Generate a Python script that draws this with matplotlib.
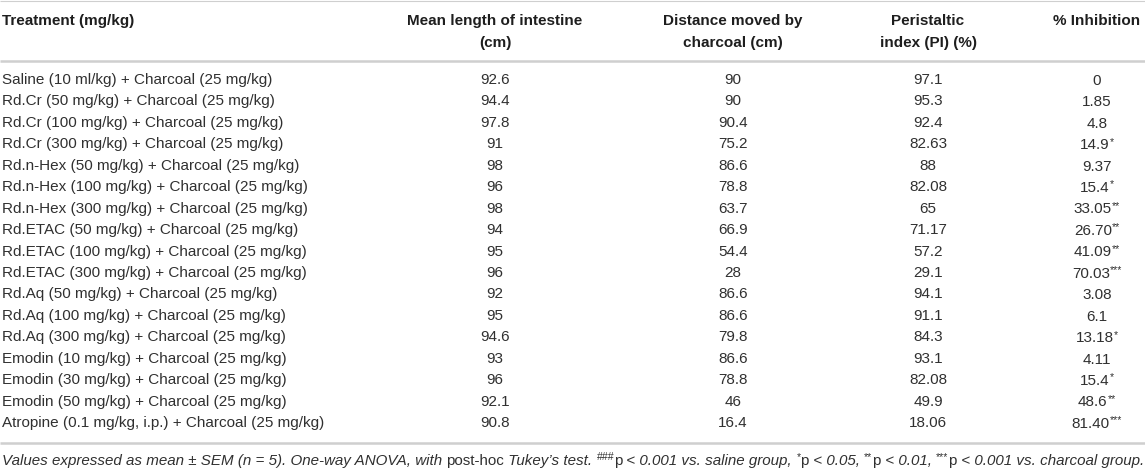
import matplotlib
matplotlib.use("Agg")
import matplotlib.pyplot as plt

# ---------------- data ----------------
header_treatment = "Treatment (mg/kg)"
header_cols = [
    ["Mean length of intestine", "(cm)"],
    ["Distance moved by", "charcoal (cm)"],
    ["Peristaltic", "index (PI) (%)"],
    ["% Inhibition"],
]
treatments = [
    "Saline (10 ml/kg) + Charcoal (25 mg/kg)",
    "Rd.Cr (50 mg/kg) + Charcoal (25 mg/kg)",
    "Rd.Cr (100 mg/kg) + Charcoal (25 mg/kg)",
    "Rd.Cr (300 mg/kg) + Charcoal (25 mg/kg)",
    "Rd.n-Hex (50 mg/kg) + Charcoal (25 mg/kg)",
    "Rd.n-Hex (100 mg/kg) + Charcoal (25 mg/kg)",
    "Rd.n-Hex (300 mg/kg) + Charcoal (25 mg/kg)",
    "Rd.ETAC (50 mg/kg) + Charcoal (25 mg/kg)",
    "Rd.ETAC (100 mg/kg) + Charcoal (25 mg/kg)",
    "Rd.ETAC (300 mg/kg) + Charcoal (25 mg/kg)",
    "Rd.Aq (50 mg/kg) + Charcoal (25 mg/kg)",
    "Rd.Aq (100 mg/kg) + Charcoal (25 mg/kg)",
    "Rd.Aq (300 mg/kg) + Charcoal (25 mg/kg)",
    "Emodin (10 mg/kg) + Charcoal (25 mg/kg)",
    "Emodin (30 mg/kg) + Charcoal (25 mg/kg)",
    "Emodin (50 mg/kg) + Charcoal (25 mg/kg)",
    "Atropine (0.1 mg/kg, i.p.) + Charcoal (25 mg/kg)",
]
mean_length = ["92.6", "94.4", "97.8", "91", "98", "96", "98", "94", "95", "96",
               "92", "95", "94.6", "93", "96", "92.1", "90.8"]
distance = ["90", "90", "90.4", "75.2", "86.6", "78.8", "63.7", "66.9", "54.4", "28",
            "86.6", "86.6", "79.8", "86.6", "78.8", "46", "16.4"]
peristaltic = ["97.1", "95.3", "92.4", "82.63", "88", "82.08", "65", "71.17", "57.2", "29.1",
               "94.1", "91.1", "84.3", "93.1", "82.08", "49.9", "18.06"]
inhibition = ["0", "1.85", "4.8", "14.9", "9.37", "15.4", "33.05", "26.70", "41.09", "70.03",
              "3.08", "6.1", "13.18", "4.11", "15.4", "48.6", "81.40"]
significance = ["", "", "", "*", "", "*", "**", "**", "**", "***",
                "", "", "*", "", "*", "**", "***"]

footnote = [
    ("Values expressed as mean \u00b1 SEM (n = 5). One-way ANOVA, with ", "it"),
    ("post-hoc", "up"),
    (" Tukey\u2019s test. ", "it"),
    ("###", "sup"), ("p", "up"), (" < 0.001 vs. saline group, ", "it"),
    ("*", "sup"), ("p", "up"), (" < 0.05, ", "it"),
    ("**", "sup"), ("p", "up"), (" < 0.01, ", "it"),
    ("***", "sup"), ("p", "up"), (" < 0.001 vs. charcoal group.", "it"),
]

# ---------------- layout ----------------
W, H = 1145, 468
FONT = "Liberation Sans"
FS = 11.0
FS_FOOT = 10.9
FS_SUP = 7.6
TXT = "#303030"
HDR = "#1e1e1e"
LINE = "#cfcfcf"

col_x = [495, 733, 928, 1097]
row_y0 = 80.0
row_dy = 21.44

fig = plt.figure(figsize=(W / 100, H / 100), dpi=100)
ax = fig.add_axes([0, 0, 1, 1])
ax.set_xlim(0, W)
ax.set_ylim(H, 0)
ax.axis("off")
renderer = fig.canvas.get_renderer()


def draw_pieces(x, y_center, pieces, fs, ha="left"):
    """pieces: list of (text, kind) kind in it/up/sup/reg; y_center is row centre"""
    base = y_center + 4.8
    objs = []
    for s, kind in pieces:
        kw = dict(fontfamily=FONT, color=TXT, va="baseline", ha="left")
        yy = base
        if kind == "sup":
            kw["fontsize"] = FS_SUP
            yy = base - 4.5
        else:
            kw["fontsize"] = fs
        if kind == "it":
            kw["fontstyle"] = "italic"
        t = ax.text(0, yy, s, **kw)
        objs.append(t)
    widths = [t.get_window_extent(renderer).width for t in objs]
    total = sum(widths)
    start = x - total / 2 if ha == "center" else x
    cur = start
    for t, w in zip(objs, widths):
        t.set_x(cur)
        cur += w
    return total


# rules
ax.plot([0, W], [1, 1], color=LINE, lw=0.8, solid_capstyle="butt")
ax.plot([0, W], [61, 61], color=LINE, lw=1.8, solid_capstyle="butt")
ax.plot([0, W], [443, 443], color=LINE, lw=1.8, solid_capstyle="butt")

# header
ax.text(2, 21, header_treatment, fontfamily=FONT, fontsize=FS, fontweight="bold",
        color=HDR, ha="left", va="center")
for cx, lines in zip(col_x, header_cols):
    for j, s in enumerate(lines):
        ax.text(cx, 21 + 22 * j, s, fontfamily=FONT, fontsize=FS, fontweight="bold",
                color=HDR, ha="center", va="center")

# body
for i, name in enumerate(treatments):
    y = row_y0 + row_dy * i
    ax.text(2, y, name, fontfamily=FONT, fontsize=FS, color=TXT, ha="left", va="center")
    for cx, col in zip(col_x[:3], [mean_length, distance, peristaltic]):
        ax.text(cx, y, col[i], fontfamily=FONT, fontsize=FS, color=TXT, ha="center", va="center")
    pieces = [(inhibition[i], "reg")]
    if significance[i]:
        pieces.append((significance[i], "sup"))
    draw_pieces(col_x[3], y, pieces, FS, ha="center")

# footnote
draw_pieces(2, 460, footnote, FS_FOOT, ha="left")

fig.savefig("out.png", dpi=100)
